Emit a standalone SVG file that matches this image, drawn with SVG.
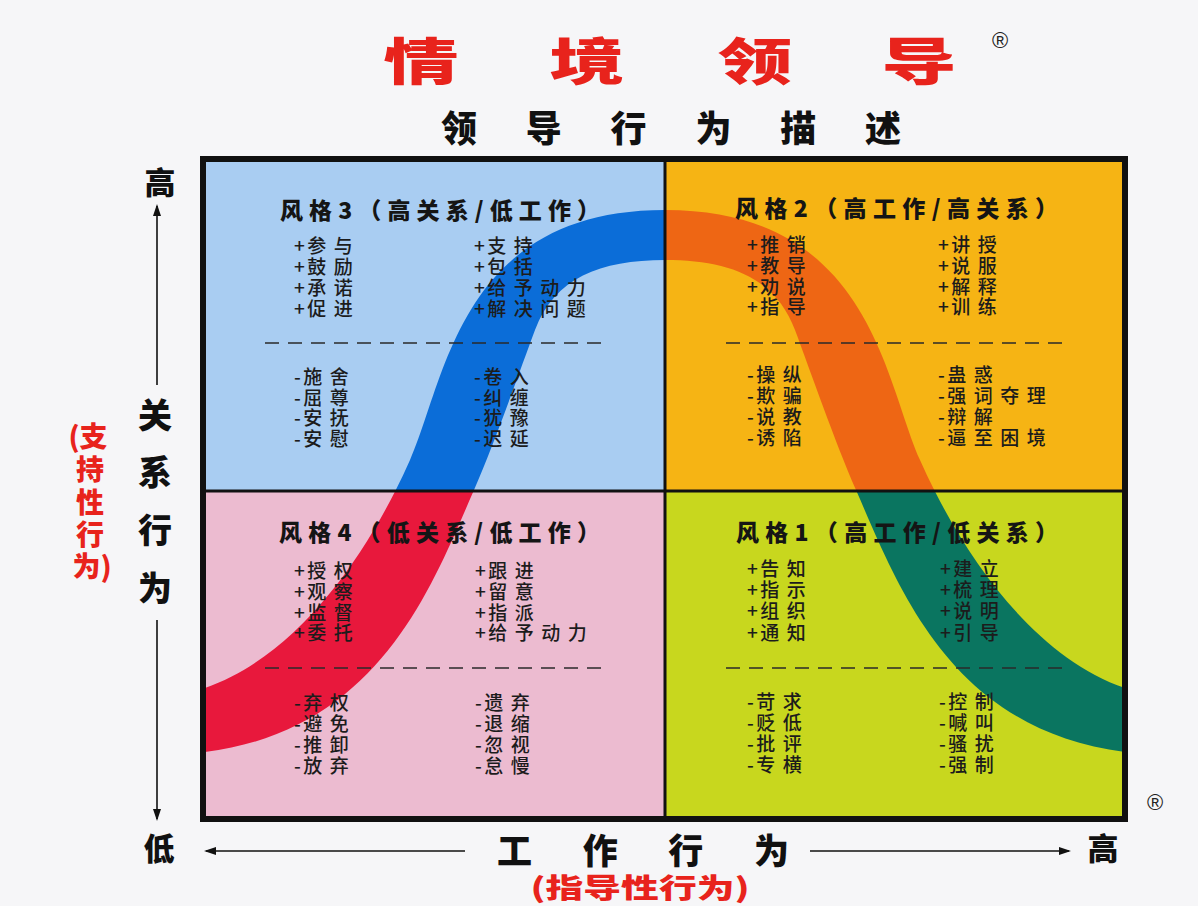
<svg xmlns="http://www.w3.org/2000/svg" width="1198" height="906" viewBox="0 0 1198 906">
<style>
.t{font-family:"Noto Sans CJK SC","Noto Sans",sans-serif;}
.item{font-size:19px;letter-spacing:7.5px;fill:#1c1c1c;font-weight:500;}
.qt{font-size:23px;font-weight:900;fill:#151515;}
.big{font-weight:900;fill:#111;}
.red{fill:#E8231C;font-weight:900;}
.dash{stroke:#2a2a2a;stroke-width:1.6;stroke-dasharray:14 9;fill:none;}
.ax{stroke:#111;stroke-width:1.6;fill:none;}
</style>
<defs>
<path id="band" d="M196,691 L205,688 C300,655 370,550 410,460 C446,379 460,210 665,210 C870,210 884,379 920,460 C960,550 1030,655 1125,688 L1134,691 L1134,755 L1125,752 C950,730 898,586 856,490 C835,442 810,370 795,330 C775.5,278 730,260 665,260 C600,260 554.5,278 535,330 C520,370 495,442 474,490 C432,586 380,730 205,752 L196,755 Z"/>
<clipPath id="cTL"><rect x="203" y="159" width="462" height="332"/></clipPath>
<clipPath id="cTR"><rect x="665" y="159" width="460" height="332"/></clipPath>
<clipPath id="cBL"><rect x="203" y="491" width="462" height="328"/></clipPath>
<clipPath id="cBR"><rect x="665" y="491" width="460" height="328"/></clipPath>
<marker id="ah" markerWidth="12" markerHeight="10" refX="10" refY="5" orient="auto" markerUnits="userSpaceOnUse"><path d="M0,1 L12,5 L0,9 Z" fill="#111"/></marker>
</defs>
<rect width="1198" height="906" fill="#F6F6F8"/>

<g id="title">
<text class="t" x="0" y="0" font-size="50" fill="#E8231C" font-weight="900" text-anchor="middle" transform="translate(421,80) scale(1.5,1)">情</text>
<text class="t" x="0" y="0" font-size="50" fill="#E8231C" font-weight="900" text-anchor="middle" transform="translate(587,80) scale(1.5,1)">境</text>
<text class="t" x="0" y="0" font-size="50" fill="#E8231C" font-weight="900" text-anchor="middle" transform="translate(755,80) scale(1.5,1)">领</text>
<text class="t" x="0" y="0" font-size="50" fill="#E8231C" font-weight="900" text-anchor="middle" transform="translate(919,80) scale(1.5,1)">导</text>
<text x="1000" y="48" font-family="Liberation Sans, sans-serif" font-size="22" fill="#222" text-anchor="middle">®</text>
<text class="t big" x="671" y="142" font-size="36" text-anchor="middle" textLength="460" lengthAdjust="spacing">领导行为描述</text>
</g>

<g id="quadrants">
<rect x="203" y="159" width="462" height="332" fill="#A9CDF2"/>
<rect x="665" y="159" width="460" height="332" fill="#F6B414"/>
<rect x="203" y="491" width="462" height="328" fill="#ECBBD0"/>
<rect x="665" y="491" width="460" height="328" fill="#C8D71E"/>
</g>

<g id="curve">
<use href="#band" fill="#0B6DD8" clip-path="url(#cTL)"/>
<use href="#band" fill="#EE6614" clip-path="url(#cTR)"/>
<use href="#band" fill="#E8183C" clip-path="url(#cBL)"/>
<use href="#band" fill="#0A7560" clip-path="url(#cBR)"/>
</g>

<g id="frame">
<line x1="665" y1="159" x2="665" y2="819" stroke="#111" stroke-width="3"/>
<line x1="203" y1="491" x2="1125" y2="491" stroke="#111" stroke-width="3"/>
<rect x="203" y="159" width="922" height="660" fill="none" stroke="#111" stroke-width="6"/>
</g>

<g id="style3" class="t">
<text class="qt" x="280" y="219" textLength="320" lengthAdjust="spacing">风格3（高关系/低工作）</text>
<text class="item" x="294" y="253" dx="0 -5">+参与</text>
<text class="item" x="294" y="274" dx="0 -5">+鼓励</text>
<text class="item" x="294" y="295" dx="0 -5">+承诺</text>
<text class="item" x="294" y="316" dx="0 -5">+促进</text>
<text class="item" x="474" y="253" dx="0 -5">+支持</text>
<text class="item" x="474" y="274" dx="0 -5">+包括</text>
<text class="item" x="474" y="295" dx="0 -5">+给予动力</text>
<text class="item" x="474" y="316" dx="0 -5">+解决问题</text>
<line class="dash" x1="265" y1="343" x2="603" y2="343"/>
<text class="item" x="294" y="384" dx="0 -5">-施舍</text>
<text class="item" x="294" y="405" dx="0 -5">-屈尊</text>
<text class="item" x="294" y="425" dx="0 -5">-安抚</text>
<text class="item" x="294" y="446" dx="0 -5">-安慰</text>
<text class="item" x="474" y="384" dx="0 -5">-卷入</text>
<text class="item" x="474" y="405" dx="0 -5">-纠缠</text>
<text class="item" x="474" y="425" dx="0 -5">-犹豫</text>
<text class="item" x="474" y="446" dx="0 -5">-迟延</text>
</g>

<g id="style2" class="t">
<text class="qt" x="735" y="217" textLength="323" lengthAdjust="spacing">风格2（高工作/高关系）</text>
<text class="item" x="747" y="252" dx="0 -5">+推销</text>
<text class="item" x="747" y="273" dx="0 -5">+教导</text>
<text class="item" x="747" y="294" dx="0 -5">+劝说</text>
<text class="item" x="747" y="314" dx="0 -5">+指导</text>
<text class="item" x="938" y="252" dx="0 -5">+讲授</text>
<text class="item" x="938" y="273" dx="0 -5">+说服</text>
<text class="item" x="938" y="294" dx="0 -5">+解释</text>
<text class="item" x="938" y="314" dx="0 -5">+训练</text>
<line class="dash" x1="726" y1="343" x2="1063" y2="343"/>
<text class="item" x="747" y="382" dx="0 -5">-操纵</text>
<text class="item" x="747" y="403" dx="0 -5">-欺骗</text>
<text class="item" x="747" y="424" dx="0 -5">-说教</text>
<text class="item" x="747" y="445" dx="0 -5">-诱陷</text>
<text class="item" x="938" y="382" dx="0 -5">-蛊惑</text>
<text class="item" x="938" y="403" dx="0 -5">-强词夺理</text>
<text class="item" x="938" y="424" dx="0 -5">-辩解</text>
<text class="item" x="938" y="445" dx="0 -5">-逼至困境</text>
</g>

<g id="style4" class="t">
<text class="qt" x="279" y="541" textLength="321" lengthAdjust="spacing">风格4（低关系/低工作）</text>
<text class="item" x="294" y="578" dx="0 -5">+授权</text>
<text class="item" x="294" y="599" dx="0 -5">+观察</text>
<text class="item" x="294" y="620" dx="0 -5">+监督</text>
<text class="item" x="294" y="640" dx="0 -5">+委托</text>
<text class="item" x="475" y="578" dx="0 -5">+跟进</text>
<text class="item" x="475" y="599" dx="0 -5">+留意</text>
<text class="item" x="475" y="620" dx="0 -5">+指派</text>
<text class="item" x="475" y="640" dx="0 -5">+给予动力</text>
<line class="dash" x1="265" y1="668" x2="603" y2="668"/>
<text class="item" x="294" y="710" dx="0 -5">-弃权</text>
<text class="item" x="294" y="731" dx="0 -5">-避免</text>
<text class="item" x="294" y="752" dx="0 -5">-推卸</text>
<text class="item" x="294" y="773" dx="0 -5">-放弃</text>
<text class="item" x="475" y="710" dx="0 -5">-遗弃</text>
<text class="item" x="475" y="731" dx="0 -5">-退缩</text>
<text class="item" x="475" y="752" dx="0 -5">-忽视</text>
<text class="item" x="475" y="773" dx="0 -5">-怠慢</text>
</g>

<g id="style1" class="t">
<text class="qt" x="736" y="541" textLength="322" lengthAdjust="spacing">风格1（高工作/低关系）</text>
<text class="item" x="747" y="576" dx="0 -5">+告知</text>
<text class="item" x="747" y="597" dx="0 -5">+指示</text>
<text class="item" x="747" y="618" dx="0 -5">+组织</text>
<text class="item" x="747" y="640" dx="0 -5">+通知</text>
<text class="item" x="940" y="576" dx="0 -5">+建立</text>
<text class="item" x="940" y="597" dx="0 -5">+梳理</text>
<text class="item" x="940" y="618" dx="0 -5">+说明</text>
<text class="item" x="940" y="640" dx="0 -5">+引导</text>
<line class="dash" x1="726" y1="668" x2="1063" y2="668"/>
<text class="item" x="747" y="709" dx="0 -5">-苛求</text>
<text class="item" x="747" y="730" dx="0 -5">-贬低</text>
<text class="item" x="747" y="751" dx="0 -5">-批评</text>
<text class="item" x="747" y="772" dx="0 -5">-专横</text>
<text class="item" x="939" y="709" dx="0 -5">-控制</text>
<text class="item" x="939" y="730" dx="0 -5">-喊叫</text>
<text class="item" x="939" y="751" dx="0 -5">-骚扰</text>
<text class="item" x="939" y="772" dx="0 -5">-强制</text>
<text x="1155" y="810" font-family="Liberation Sans, sans-serif" font-size="22" fill="#222" text-anchor="middle">®</text>
</g>

<g id="connectors">
<line class="ax" x1="157" y1="385" x2="157" y2="206" marker-end="url(#ah)"/>
<line class="ax" x1="157" y1="620" x2="157" y2="819" marker-end="url(#ah)"/>
<line class="ax" x1="465" y1="851" x2="206" y2="851" marker-end="url(#ah)"/>
<line class="ax" x1="810" y1="851" x2="1069" y2="851" marker-end="url(#ah)"/>
</g>

<g id="axis-y" class="t">
<text class="big" x="160" y="194" font-size="31" text-anchor="middle">高</text>
<text class="big" x="155" y="428" font-size="34" text-anchor="middle">关</text>
<text class="big" x="155" y="485" font-size="34" text-anchor="middle">系</text>
<text class="big" x="155" y="543" font-size="34" text-anchor="middle">行</text>
<text class="big" x="155" y="601" font-size="34" text-anchor="middle">为</text>
<text class="big" x="159" y="860" font-size="31" text-anchor="middle">低</text>
<text class="red" x="88" y="447" font-size="28" text-anchor="middle">(支</text>
<text class="red" x="90" y="480" font-size="28" text-anchor="middle">持</text>
<text class="red" x="90" y="513" font-size="28" text-anchor="middle">性</text>
<text class="red" x="90" y="545" font-size="28" text-anchor="middle">行</text>
<text class="red" x="92" y="577" font-size="28" text-anchor="middle">为)</text>
</g>

<g id="axis-x" class="t">
<text class="big" x="643" y="864" font-size="35" text-anchor="middle" textLength="292" lengthAdjust="spacing">工作行为</text>
<text class="big" x="1103" y="860" font-size="31" text-anchor="middle">高</text>
<text class="red" x="0" y="0" font-size="27" text-anchor="middle" transform="translate(640,898) scale(1.4,1)">(指导性行为)</text>
</g>
</svg>
